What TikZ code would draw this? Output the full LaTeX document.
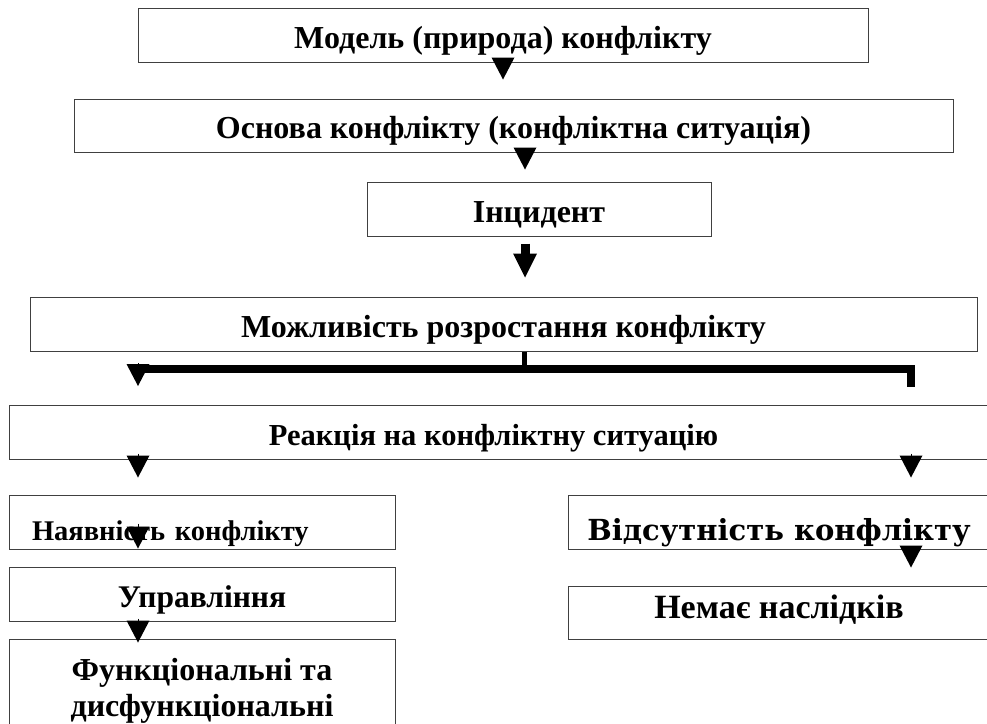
\documentclass[tikz,border=0pt]{standalone}
\usepackage{fontspec}
\setmainfont{Liberation Serif}
\newfontfamily\wideserif{DejaVu Serif}
\usetikzlibrary{arrows.meta}

\begin{document}
\begin{tikzpicture}[x=1pt, y=-1pt,
    box/.style={draw=black!75, line width=1pt, inner sep=0pt, minimum height=54pt,
      text height=26pt, text depth=0pt, font=\bfseries\fontsize{32}{36}\selectfont},
    tip/.style={-{Triangle[length=22pt, width=23pt, line width=0pt]}, line width=1pt},
    bar/.style={line width=8pt}]

  \useasboundingbox (0,0) rectangle (987,723);

  % Boxes from top to bottom
  \node[box, minimum width=730pt] (model) at (503,35) {Модель (природа) конфлікту};
  \node[box, minimum width=879pt, minimum height=53pt] (osnova) at (513.5,125.5) {Основа конфлікту (конфліктна ситуація)};
  \node[box, minimum width=344pt] (incident) at (539,209) {Інцидент};
  \node[box, minimum width=947pt] (rozrost) at (503.5,324) {Можливість розростання конфлікту};
  \node[box, minimum width=991pt, font=\bfseries\fontsize{30.5}{34}\selectfont] (reakcia) at (504.5,432) {\hspace{-22pt}Реакція на конфліктну ситуацію};

  % Left branch
  \node[box, minimum width=386pt, text width=340pt, align=left, text height=36pt,
    font=\bfseries\fontsize{28.5}{32}\selectfont] (nayav) at (202,522) {Наявність конфлікту};
  \node[box, minimum width=386pt, font=\bfseries\fontsize{31.5}{34}\selectfont] (uprav) at (202,594) {Управління};
  \node[box, minimum width=386pt, minimum height=104pt, text height=, text depth=, align=center,
    font=\bfseries\fontsize{32}{36}\selectfont] (funk) at (202,691) {Функціональні та\\дисфункціональні};

  % Right branch
  \node[box, minimum width=422pt, text height=36pt, font=\wideserif\bfseries\fontsize{29}{32}\selectfont] (vidsut) at (779,522) {Відсутність конфлікту};
  \node[box, minimum width=422pt, minimum height=53pt, text height=11pt, font=\bfseries\fontsize{34}{36}\selectfont] (nemae) at (779,612.5) {Немає наслідків};

  % Split points of the thick line
  \coordinate (split) at (524,369);
  \coordinate (lft) at (138,369);
  \coordinate (rgt) at (911,369);

  % Arrows in the middle column
  \draw[tip] (model.south) ++(0,-5) -- ++(0,22);
  \draw[tip] (osnova.south) ++(11.5,-5) -- ++(0,22);
  \draw[-{Triangle[length=24pt, width=24pt, line width=0pt]}, line width=9pt] (incident.south) ++(-14,7) -- ++(0,34);

  % Thick fork under the growth box
  \draw[line width=5pt] (rozrost.south -| split) -- (split);
  \draw[bar] (split) -- (lft);
  \draw[bar] (split) -- (rgt) -- ++(0,18);
  \draw[tip] (lft) ++(0,-6) -- ++(0,23);

  % Arrows under the reaction box
  \draw[tip] (reakcia.south -| lft) ++(0,-6) -- ++(0,24);
  \draw[tip] (reakcia.south -| rgt) ++(0,-6) -- ++(0,24);

  % Arrows inside the branches
  \draw[tip] (nayav.south -| lft) ++(0,-26) -- ++(0,25);
  \draw[tip] (uprav.south -| lft) ++(0,-3) -- ++(0,24);
  \draw[tip] (vidsut.south -| rgt) ++(0,-4) -- ++(0,22);

\end{tikzpicture}
\end{document}
